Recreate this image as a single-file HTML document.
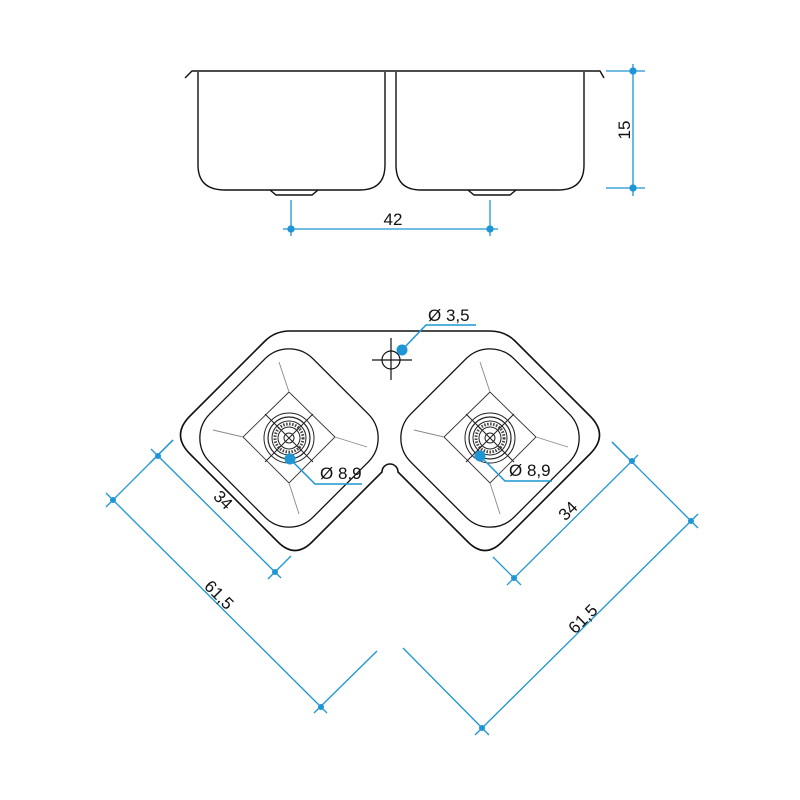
<!DOCTYPE html>
<html><head><meta charset="utf-8"><style>html,body{margin:0;padding:0;background:#fff}svg{display:block}</style></head>
<body>
<svg width="800" height="800" viewBox="0 0 800 800" xmlns="http://www.w3.org/2000/svg" font-family="Liberation Sans, sans-serif">
<defs>
<g id="drain">
  <circle r="25" fill="none" stroke="#222" stroke-width="1"/>
  <circle r="21" fill="none" stroke="#222" stroke-width="1.2"/>
  <circle r="17" fill="none" stroke="#222" stroke-width="1"/>
  <circle r="14" fill="none" stroke="#444" stroke-width="3" stroke-dasharray="1.5 1.5"/>
  <circle r="11" fill="none" stroke="#222" stroke-width="1"/>
  <circle r="5" fill="none" stroke="#222" stroke-width="1"/>
  <line x1="-24" y1="-24" x2="24" y2="24" stroke="#222" stroke-width="1"/>
  <line x1="24" y1="-24" x2="-24" y2="24" stroke="#222" stroke-width="1"/>
</g>
<g id="bowl">
  <rect x="-73" y="-73" width="146" height="146" rx="34" transform="rotate(45)" fill="none" stroke="#111" stroke-width="1.3"/>
  <polygon points="0,-45 -46,0 0,46 46,0" transform="translate(0,-1)" fill="none" stroke="#333" stroke-width="0.9"/>
  <g stroke="#888" stroke-width="0.9">
    <line x1="0" y1="-46" x2="-10" y2="-76"/>
    <line x1="-46" y1="-1" x2="-76" y2="-8"/>
    <line x1="46" y1="-1" x2="78" y2="9"/>
    <line x1="0" y1="45" x2="10" y2="76"/>
  </g>
  <use href="#drain"/>
</g>
</defs>

<!-- TOP VIEW -->
<g fill="none" stroke="#111" stroke-width="1.4">
  <path d="M185,78 L192,71 L600,71 L604,78"/>
  <path d="M198,72 L198,165 Q198,190 225,190 L360,190 Q385,190 385,165 L385,72"/>
  <path d="M396,72 L396,165 Q396,190 421,190 L558,190 Q584,190 584,165 L584,72"/>
  <path d="M270,190 L276,195 L312,195 L318,190"/>
  <path d="M468,190 L474,195 L510,195 L516,190"/>
</g>
<g stroke="#1e95d4" stroke-width="1.3" fill="#1e95d4">
  <line x1="606" y1="71" x2="645" y2="71"/>
  <line x1="606" y1="188" x2="645" y2="188"/>
  <line x1="633" y1="64" x2="633" y2="196"/>
  <circle cx="633" cy="71" r="3"/><circle cx="633" cy="188" r="3"/>
  <line x1="291" y1="200" x2="291" y2="236"/>
  <line x1="490" y1="200" x2="490" y2="236"/>
  <line x1="283" y1="229" x2="498" y2="229"/>
  <circle cx="291" cy="229" r="3"/><circle cx="490" cy="229" r="3"/>
</g>
<text x="393" y="225" font-size="17" text-anchor="middle" fill="#111">42</text>
<text x="0" y="0" font-size="17" text-anchor="middle" fill="#111" transform="translate(630,130) rotate(-90)">15</text>

<!-- BOTTOM VIEW outline -->
<path d="M290,331 L490,331 Q505,331 515,341 L590,416 Q609,435 590,454 L502,542 Q485,559 468,542 L398,472 A7,7 0 1 0 382,472 L312,542 Q295,559 278,542 L190,454 Q171,435 190,416 L265,341 Q275,331 290,331 Z" fill="none" stroke="#111" stroke-width="1.6"/>
<g transform="translate(289,438)"><use href="#bowl"/></g>
<g transform="translate(490,438)"><use href="#bowl"/></g>

<!-- tap hole -->
<g stroke="#111" stroke-width="1.2" fill="none">
  <circle cx="391" cy="360" r="9"/>
  <line x1="372" y1="360" x2="412" y2="360"/>
  <line x1="391" y1="338" x2="391" y2="380"/>
</g>

<!-- blue leaders -->
<g stroke="#1e95d4" stroke-width="1.5" fill="none">
  <polyline points="402,350 426,325 476,325"/>
  <polyline points="290,459 315,484 362,484"/>
  <polyline points="480,456 505,481 552,481"/>
</g>
<g fill="#1e95d4">
  <circle cx="402" cy="350" r="5.5"/>
  <circle cx="290" cy="459" r="5.5"/>
  <circle cx="480" cy="456" r="5.5"/>
</g>
<g font-size="17" fill="#111">
  <text x="428" y="321">Ø 3,5</text>
  <text x="320" y="479">Ø 8,9</text>
  <text x="509" y="476">Ø 8,9</text>
</g>

<!-- diagonal dims -->
<g stroke="#1e95d4" stroke-width="1.3" fill="none">
  <line x1="151" y1="449" x2="281" y2="578"/>
  <line x1="150" y1="463" x2="173" y2="440"/>
  <line x1="268" y1="579" x2="291" y2="556"/>
  <line x1="106" y1="493" x2="327" y2="713"/>
  <line x1="106" y1="507" x2="173" y2="440"/>
  <line x1="314" y1="713" x2="377" y2="651"/>

  <line x1="638" y1="455" x2="507" y2="585"/>
  <line x1="638" y1="468" x2="612" y2="442"/>
  <line x1="521" y1="585" x2="493" y2="557"/>
  <line x1="698" y1="514" x2="475" y2="735"/>
  <line x1="698" y1="528" x2="612" y2="442"/>
  <line x1="489" y1="735" x2="403" y2="648"/>
</g>
<g fill="#1e95d4">
  <circle cx="158" cy="456" r="3"/><circle cx="275" cy="572" r="3"/>
  <circle cx="113" cy="500" r="3"/><circle cx="321" cy="707" r="3"/>
  <circle cx="632" cy="461" r="3"/><circle cx="514" cy="578" r="3"/>
  <circle cx="691" cy="521" r="3"/><circle cx="482" cy="728" r="3"/>
</g>
<g font-size="17" fill="#111" text-anchor="middle">
  <text transform="translate(219,504) rotate(45)">34</text>
  <text transform="translate(215,599) rotate(45)">61,5</text>
  <text transform="translate(572,515) rotate(-45)">34</text>
  <text transform="translate(587,623) rotate(-45)">61,5</text>
</g>
</svg>
</body></html>
